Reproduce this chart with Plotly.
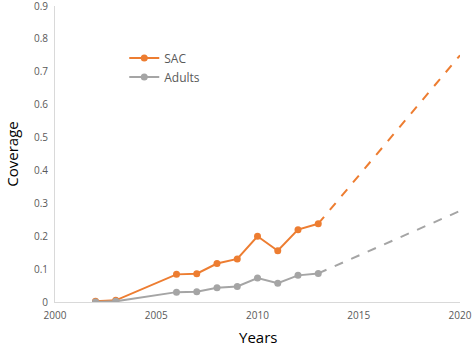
import plotly.graph_objects as go

years = [2002, 2003, 2006, 2007, 2008, 2009, 2010, 2011, 2012, 2013]
sac = [0.002, 0.005, 0.084, 0.086, 0.117, 0.131, 0.200, 0.156, 0.220, 0.238]
adults = [0.000, 0.002, 0.030, 0.031, 0.043, 0.047, 0.073, 0.057, 0.081, 0.087]
proj_years = [2013, 2020]
sac_proj = [0.238, 0.750]
adults_proj = [0.087, 0.277]
x_ticks = [2000, 2005, 2010, 2015, 2020]
y_ticks = [0, 0.1, 0.2, 0.3, 0.4, 0.5, 0.6, 0.7, 0.8, 0.9]
y_labels = ["0", "0.1", "0.2", "0.3", "0.4", "0.5", "0.6", "0.7", "0.8", "0.9"]

orange = "#ED7D31"
grey = "#A5A5A5"

fig = go.Figure()
fig.add_trace(go.Scatter(x=years, y=sac, mode="lines+markers", name="SAC",
                         line=dict(color=orange, width=2), marker=dict(size=7, color=orange)))
fig.add_trace(go.Scatter(x=years, y=adults, mode="lines+markers", name="Adults",
                         line=dict(color=grey, width=2), marker=dict(size=7, color=grey)))
fig.add_trace(go.Scatter(x=proj_years, y=sac_proj, mode="lines", showlegend=False,
                         line=dict(color=orange, width=2, dash="dash")))
fig.add_trace(go.Scatter(x=proj_years, y=adults_proj, mode="lines", showlegend=False,
                         line=dict(color=grey, width=2, dash="dash")))

fig.update_layout(
    width=472, height=347,
    margin=dict(l=55, r=12, t=6, b=45),
    paper_bgcolor="white", plot_bgcolor="white",
    font=dict(family="Open Sans", color="#595959", size=10),
    legend=dict(x=0.171, y=0.873, xanchor="left", yanchor="top", bgcolor="rgba(0,0,0,0)",
                font=dict(size=12, color="#595959"), itemwidth=30, tracegroupgap=0),
    xaxis=dict(range=[2000, 2020], tickvals=x_ticks, ticklabeloverflow="allow", automargin=False,
               showgrid=False, zeroline=False, showline=True, linecolor="#D9D9D9", linewidth=1,
               ticks="", ticklabelstandoff=4),
    yaxis=dict(range=[0, 0.9], tickvals=y_ticks, ticktext=y_labels, ticklabeloverflow="allow",
               automargin=False,
               showgrid=False, zeroline=False, showline=True, linecolor="#D9D9D9", linewidth=1,
               ticks="", ticklabelstandoff=4),
    annotations=[
        dict(text="Years", xref="paper", yref="paper", x=0.5, y=-0.118,
             xanchor="center", yanchor="middle", showarrow=False,
             font=dict(size=15, color="black")),
        dict(text="Coverage", xref="paper", yref="paper", x=-0.107, y=0.5,
             xanchor="center", yanchor="middle", showarrow=False, textangle=-90,
             font=dict(size=15, color="black")),
    ],
)

fig.write_html("out.html", config={"displayModeBar": False},
               post_script="document.body.style.margin='0';")
